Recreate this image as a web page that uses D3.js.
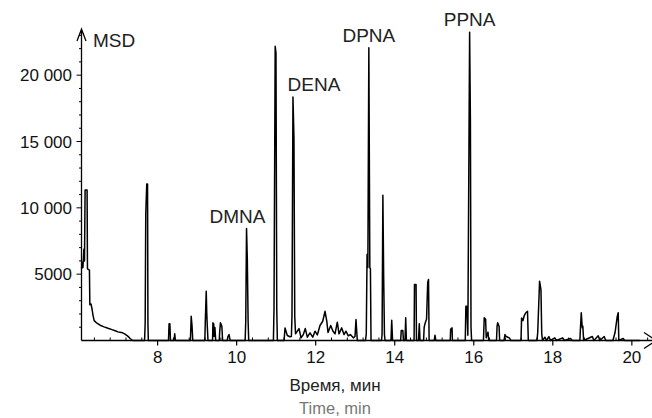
<html>
<head>
<style>
  body { margin: 0; background: #fff; }
  text { font-family: 'Liberation Sans', Arial, sans-serif; }
</style>
</head>
<body>
  <div id = 'chart'></div>
  <script src = 'https://cdn.jsdelivr.net/npm/d3@7/dist/d3.min.js'></script>
  <script>
    // retention time (min), abundance
    var trace = [
      [6.075,5400],[6.09,5900],[6.11,5500],[6.135,6900],[6.15,6000],[6.165,11350],[6.215,11350],[6.225,5400],
      [6.275,5300],[6.285,2700],[6.315,2750],[6.345,2300],[6.365,1900],[6.395,1500],[6.445,1350],[6.545,1150],
      [6.645,1030],[6.745,920],[6.845,820],[6.945,720],[6.995,650],[7.045,620],[7.115,580],[7.165,500],
      [7.245,330],[7.305,150],[7.37,0],
      [7.67,0],[7.685,1300],[7.70,9500],[7.725,11800],[7.745,11800],[7.755,1300],[7.765,0],
      [8.275,0],[8.29,1260],[8.31,1260],[8.325,0],
      [8.415,0],[8.433,500],[8.45,0],
      [8.83,0],[8.85,1830],[8.87,1150],[8.89,0],
      [9.195,0],[9.205,1250],[9.23,3720],[9.245,2000],[9.255,1200],[9.275,0],
      [9.39,0],[9.40,1330],[9.42,1250],[9.43,300],[9.45,980],[9.47,0],
      [9.56,0],[9.57,600],[9.59,1330],[9.625,1080],[9.645,0],
      [9.76,0],[9.78,300],[9.807,450],[9.835,0],
      [10.215,0],[10.23,1450],[10.25,8440],[10.27,6100],[10.29,1450],[10.305,0],
      [10.93,0],[10.945,2340],[10.975,22180],[10.995,21680],[11.015,2340],[11.03,0],
      [11.2,0],[11.224,950],[11.282,380],[11.35,280],
      [11.385,300],[11.40,1830],[11.425,18360],[11.45,15270],[11.47,1830],[11.49,500],
      [11.578,900],[11.629,200],[11.687,450],[11.737,900],[11.788,250],[11.856,580],[11.925,250],[11.983,700],
      [12.041,420],[12.109,1130],[12.178,1450],[12.236,2200],[12.279,1500],[12.312,600],[12.38,1130],[12.438,700],
      [12.489,500],[12.547,1380],[12.59,500],[12.658,950],[12.717,450],[12.767,700],[12.825,350],[12.876,450],
      [12.952,200],[12.995,300],[13.02,1580],[13.053,0],
      [13.26,0],[13.28,500],[13.30,6480],[13.32,5500],[13.345,22060],[13.37,5480],[13.385,5400],[13.40,0],
      [13.665,0],[13.68,450],[13.70,10950],[13.72,4850],[13.74,450],[13.755,0],
      [13.905,0],[13.924,1530],[13.945,0],
      [14.15,0],[14.165,750],[14.205,750],[14.22,0],
      [14.26,0],[14.278,1710],[14.295,0],
      [14.49,0],[14.50,4220],[14.54,4220],[14.55,0],
      [14.60,0],[14.622,1260],[14.64,0],
      [14.73,0],[14.745,1000],[14.765,1250],[14.785,1450],[14.805,1600],[14.835,4400],[14.855,4600],[14.87,0],
      [15.0,0],[15.019,400],[15.04,0],
      [15.405,0],[15.415,850],[15.45,950],[15.46,0],
      [15.785,0],[15.80,2590],[15.825,2590],[15.85,400],[15.895,23230],[15.915,16530],[15.93,1000],[15.945,0],
      [16.245,0],[16.265,1710],[16.30,1600],[16.315,200],[16.36,630],[16.38,0],
      [16.575,0],[16.59,1080],[16.605,1330],[16.64,1080],[16.655,0],
      [16.765,0],[16.79,450],[16.82,300],[16.86,250],[16.90,200],[16.94,0],
      [17.195,0],[17.21,1700],[17.245,1500],[17.28,1900],[17.32,2100],[17.36,2200],[17.38,0],
      [17.60,0],[17.618,600],[17.665,4470],[17.70,3840],[17.72,500],[17.74,0],
      [17.80,250],[17.84,0],[17.90,300],[17.94,0],[18.05,200],[18.09,0],[18.25,200],[18.29,0],[18.45,150],[18.49,0],
      [18.685,0],[18.70,960],[18.72,2090],[18.745,960],[18.76,1080],[18.78,0],
      [19.0,300],[19.04,0],[19.15,350],[19.19,0],[19.3,300],[19.34,0],
      [19.52,0],[19.575,600],[19.63,1800],[19.655,2090],[19.67,0],
      [19.78,150],[19.82,0],[20.2,0]
    ];
    var peakNames = ['DMNA','DENA','DPNA','PPNA'];
    var peakTimes = [10.25, 11.425, 13.345, 15.895];
    var peakTops = [8440, 18360, 22060, 23230];
    var xTickValues = [8,10,12,14,16,18,20];
    var yTickValues = [5000,10000,15000,20000];
    var yTickLabels = ['5000','10 000','15 000','20 000'];

    var svgWidth = 652, svgHeight = 418,
        x0 = 81.5, yBase = 340.5;

    var svg = d3.select('#chart').append('svg')
      .attr('width',svgWidth)
      .attr('height',svgHeight)

    var x = d3.scaleLinear().domain([6.074,20.51]).range([x0,652]);
    var y = d3.scaleLinear().domain([0,23500]).range([yBase,yBase - 23500*0.013266]);

    // minor + major ticks
    var xMinor = d3.range(6.4,20.5,0.4).filter(function(t){ return Math.abs(t/2 - Math.round(t/2)) > 0.01; });
    svg.selectAll('.xminor').data(xMinor).enter().append('line')
      .attr('x1',function(d){ return x(d); }).attr('x2',function(d){ return x(d); })
      .attr('y1',yBase).attr('y2',yBase - 3)
      .attr('stroke','#000').attr('stroke-width',1);
    svg.selectAll('.xmajor').data(xTickValues).enter().append('line')
      .attr('x1',function(d){ return x(d); }).attr('x2',function(d){ return x(d); })
      .attr('y1',yBase).attr('y2',yBase + 5)
      .attr('stroke','#000').attr('stroke-width',1.2);
    svg.selectAll('.xlabel').data(xTickValues).enter().append('text')
      .attr('x',function(d){ return x(d); })
      .attr('y',363)
      .attr('text-anchor','middle')
      .attr('font-size',17)
      .attr('fill','#111')
      .text(function(d){ return d; });

    var yMinor = d3.range(1000,23001,1000);
    svg.selectAll('.yminor').data(yMinor).enter().append('line')
      .attr('x1',x0).attr('x2',function(d){ return d % 5000 == 0 ? x0 - 5 : x0 - 2.5; })
      .attr('y1',function(d){ return y(d); }).attr('y2',function(d){ return y(d); })
      .attr('stroke','#000').attr('stroke-width',1);
    svg.selectAll('.ylabel').data(yTickValues).enter().append('text')
      .attr('x',72)
      .attr('y',function(d){ return y(d) + 6; })
      .attr('text-anchor','end')
      .attr('font-size',17)
      .attr('fill','#111')
      .text(function(d,i){ return yTickLabels[i]; });

    // axes with arrows
    svg.append('path')
      .attr('d','M' + x0 + ',' + yBase + 'L' + x0 + ',29 M' + (x0-4.5) + ',41 L' + x0 + ',29 L' + (x0+4.5) + ',41')
      .attr('fill','none').attr('stroke','#000').attr('stroke-width',1.3);
    svg.append('path')
      .attr('d','M' + x0 + ',' + yBase + 'L656,' + yBase + ' M644,' + (yBase-8) + ' L656,' + yBase + ' L644,' + (yBase+8))
      .attr('fill','none').attr('stroke','#000').attr('stroke-width',1.3);

    // chromatogram
    var line = d3.line()
      .x(function(d){ return x(d[0]); })
      .y(function(d){ return y(d[1]); });
    svg.append('path')
      .datum(trace)
      .attr('d',line)
      .attr('fill','none')
      .attr('stroke','#000')
      .attr('stroke-width',1.5)
      .attr('stroke-linejoin','round');

    // peak labels
    var labelDx = [-9, 21, 0, 0];
    svg.selectAll('.peak').data(peakNames).enter().append('text')
      .attr('x',function(d,i){ return x(peakTimes[i]) + labelDx[i]; })
      .attr('y',function(d,i){ return y(peakTops[i]) - 6; })
      .attr('text-anchor','middle')
      .attr('font-size',19)
      .attr('fill','#222')
      .text(function(d){ return d; });

    svg.append('text').attr('x',93).attr('y',47).attr('font-size',19).attr('fill','#222').text('MSD');
    svg.append('text').attr('x',335).attr('y',391).attr('text-anchor','middle').attr('font-size',17).attr('fill','#222').text('Время, мин');
    svg.append('text').attr('x',335).attr('y',414).attr('text-anchor','middle').attr('font-size',16.5).attr('fill','#777').text('Time, min');
  </script>
</body>
</html>
